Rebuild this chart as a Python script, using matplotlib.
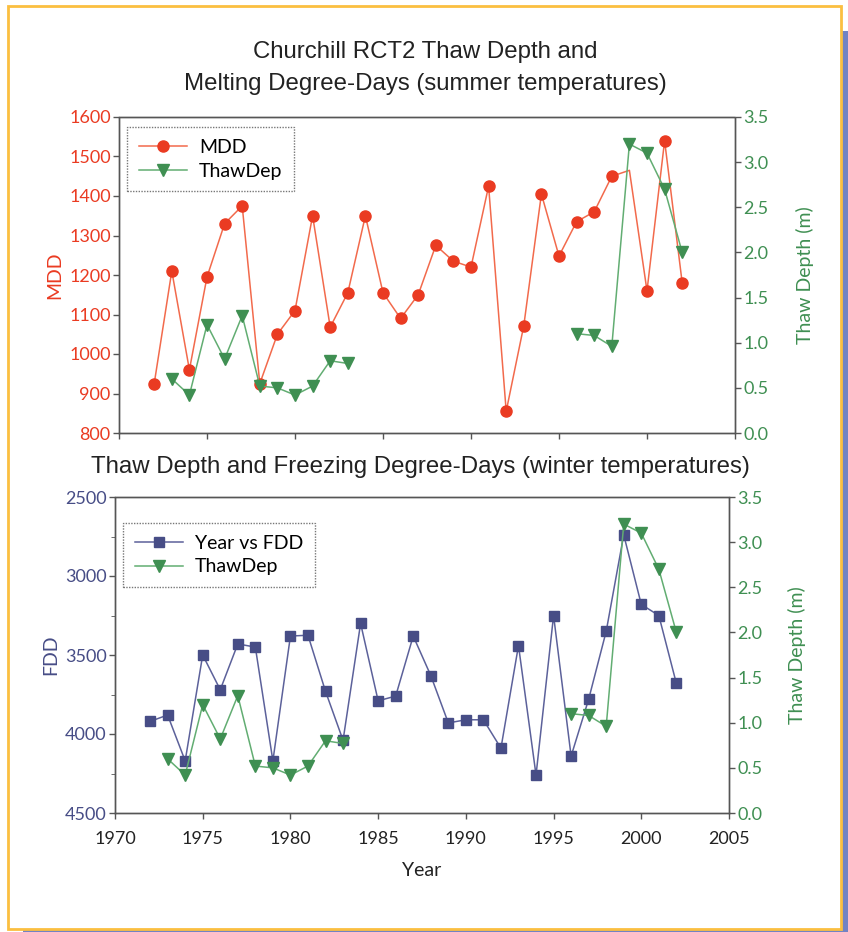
import numpy as np
import matplotlib
matplotlib.use("Agg")
import matplotlib.pyplot as plt
from matplotlib.patches import Rectangle
from matplotlib.ticker import MultipleLocator, NullFormatter, FormatStrFormatter

# yearly records, Churchill RCT2 site
years = np.arange(1972, 2003)
mdd = [925, 1210, 960, 1195, 1330, 1375, 925, 1050, 1110, 1350, 1068, 1155,
       1350, 1155, 1090, 1150, 1275, 1235, 1220, 1425, 855, 1072, 1405, 1248,
       1335, 1360, 1450, 1465, 1160, 1540, 1180]
fdd = [3920, 3880, 4170, 3500, 3720, 3430, 3450, 4170, 3380, 3375, 3730, 4040,
       3300, 3790, 3760, 3380, 3630, 3930, 3910, 3910, 4090, 3440, 4260, 3250,
       4140, 3780, 3350, 2740, 3180, 3250, 3680]
thaw_years = np.arange(1973, 2003)
thaw = [0.60, 0.42, 1.20, 0.82, 1.30, 0.52, 0.50, 0.42, 0.52, 0.80, 0.77,
        np.nan, np.nan, np.nan, np.nan, np.nan, np.nan, np.nan, np.nan, np.nan,
        np.nan, np.nan, np.nan,
        1.10, 1.08, 0.96, 3.20, 3.10, 2.70, 2.00]

RED = "#ea3b22"
RED_LINE = "#f26a4c"
GREEN = "#3f8f52"
GREEN_LINE = "#62ad72"
NAVY = "#474d86"
NAVY_LINE = "#5c619a"
SPINE = "#555555"

W, H = 848, 932
fig = plt.figure(figsize=(W / 100, H / 100), dpi=100)

# framed panel with a drop shadow, kept behind the axes
def px_rect(x0, y0, x1, y1, **kw):
    return Rectangle((x0 / W, 1 - y1 / H), (x1 - x0) / W, (y1 - y0) / H,
                     transform=fig.transFigure, zorder=-5, **kw)

fig.patches.append(px_rect(23, 31, 850, 934, facecolor="#7383c3", edgecolor="none"))
fig.patches.append(px_rect(8, 6, 841, 929, facecolor="white", edgecolor="#fbbf40", linewidth=2))

TXT = ["Lato", "DejaVu Sans"]
TITLE = ["Liberation Sans Narrow", "Liberation Sans", "DejaVu Sans"]
TICK_FS = 13
LABEL_FS = 14


def style_axes(ax, ax2, left_color, right_color):
    for a in (ax, ax2):
        a.patch.set_visible(False)
        for sp in a.spines.values():
            sp.set_color(SPINE)
            sp.set_linestyle((0, (1, 1)))
            sp.set_linewidth(1.0)
    ax.tick_params(axis="both", direction="out", length=4, width=1, color=SPINE,
                   labelsize=TICK_FS, top=False, right=False)
    ax.tick_params(axis="y", which="minor", direction="out", length=3, color=SPINE)
    ax.tick_params(axis="y", labelcolor=left_color, pad=2)
    ax.tick_params(axis="x", pad=9)
    ax2.tick_params(axis="y", direction="out", length=4, width=1, color=SPINE,
                    labelsize=TICK_FS, labelcolor=right_color, pad=2)
    for lab in ax.get_xticklabels() + ax.get_yticklabels() + ax2.get_yticklabels():
        lab.set_family(TXT)


def style_legend(leg):
    fr = leg.get_frame()
    fr.set_edgecolor(SPINE)
    fr.set_linestyle((0, (1, 1)))
    fr.set_linewidth(1.0)
    fr.set_boxstyle("square", pad=0)
    for t in leg.get_texts():
        t.set_family(TXT)


# ---- top panel: MDD and thaw depth ----
ax1 = fig.add_axes([119 / W, 1 - 433 / H, 616 / W, 316 / H])
ax1b = ax1.twinx()
mdd_marks = [i for i, y in enumerate(years) if y != 1999]
l1, = ax1.plot(years, mdd, color=RED_LINE, lw=1.1, marker="o", ms=8,
               mfc=RED, mec=RED, markevery=mdd_marks, label="MDD")
l2, = ax1b.plot(thaw_years, thaw, color=GREEN_LINE, lw=1.1, marker="v", ms=8,
                mfc=GREEN, mec=GREEN, label="ThawDep")
ax1.set_xlim(1970, 2005)
ax1.set_ylim(800, 1600)
ax1b.set_ylim(0, 3.5)
ax1.xaxis.set_major_locator(MultipleLocator(5))
ax1.xaxis.set_major_formatter(NullFormatter())
ax1.yaxis.set_major_locator(MultipleLocator(100))
ax1b.yaxis.set_major_locator(MultipleLocator(0.5))
ax1b.yaxis.set_major_formatter(FormatStrFormatter("%.1f"))
style_axes(ax1, ax1b, RED, GREEN)
ax1.set_ylabel("MDD", color=RED, fontsize=LABEL_FS, family=TXT, labelpad=4)
ax1b.set_ylabel("Thaw Depth (m)", color=GREEN, fontsize=LABEL_FS, family=TXT, labelpad=20)
leg1 = ax1.legend(handles=[l1, l2], loc="upper left", bbox_to_anchor=(0.013, 0.968),
                  borderaxespad=0, fontsize=14, handlelength=2.5, borderpad=0.6,
                  labelspacing=0.35, handletextpad=0.6, fancybox=False)
style_legend(leg1)

fig.text(425 / W, 1 - 68 / H,
         "Churchill RCT2 Thaw Depth and\nMelting Degree-Days (summer temperatures)",
         ha="center", va="center", fontsize=17.3, family=TITLE, linespacing=1.6,
         color="#222222")

# ---- bottom panel: FDD and thaw depth ----
ax2 = fig.add_axes([115 / W, 1 - 813 / H, 614 / W, 316 / H])
ax2b = ax2.twinx()
l3, = ax2.plot(years, fdd, color=NAVY_LINE, lw=1.1, marker="s", ms=6.5,
               mfc=NAVY, mec=NAVY, label="Year vs FDD")
l4, = ax2b.plot(thaw_years, thaw, color=GREEN_LINE, lw=1.1, marker="v", ms=8,
                mfc=GREEN, mec=GREEN, label="ThawDep")
ax2.set_xlim(1970, 2005)
ax2.set_ylim(4500, 2500)
ax2b.set_ylim(0, 3.5)
ax2.xaxis.set_major_locator(MultipleLocator(5))
ax2.yaxis.set_major_locator(MultipleLocator(500))
ax2.yaxis.set_minor_locator(MultipleLocator(250))
ax2b.yaxis.set_major_locator(MultipleLocator(0.5))
ax2b.yaxis.set_major_formatter(FormatStrFormatter("%.1f"))
style_axes(ax2, ax2b, NAVY, GREEN)
ax2.tick_params(axis="x", labelcolor="#222222")
ax2.set_ylabel("FDD", color=NAVY, fontsize=LABEL_FS, family=TXT, labelpad=4)
ax2b.set_ylabel("Thaw Depth (m)", color=GREEN, fontsize=LABEL_FS, family=TXT, labelpad=18)
ax2.set_xlabel("Year", color="#222222", fontsize=LABEL_FS, family=TXT, labelpad=11)
leg2 = ax2.legend(handles=[l3, l4], loc="upper left", bbox_to_anchor=(0.013, 0.918),
                  borderaxespad=0, fontsize=14, handlelength=2.5, borderpad=0.6,
                  labelspacing=0.35, handletextpad=0.6, fancybox=False)
style_legend(leg2)

fig.text(420 / W, 1 - 467 / H,
         "Thaw Depth and Freezing Degree-Days (winter temperatures)",
         ha="center", va="center", fontsize=17.3, family=TITLE, color="#222222")

fig.savefig("out.png", dpi=100)
